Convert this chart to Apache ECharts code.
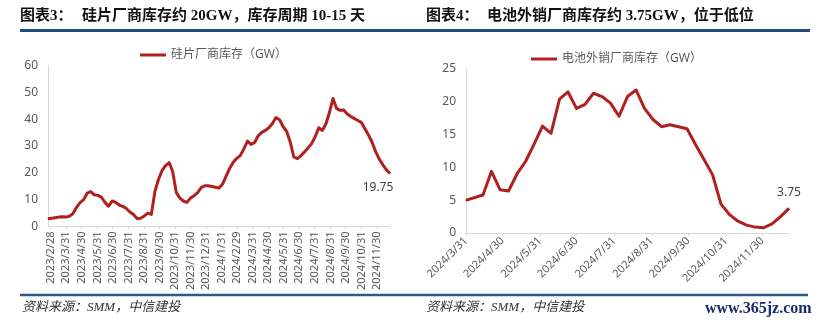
<!DOCTYPE html>
<html>
<head>
<meta charset="utf-8">
<script src="https://cdn.jsdelivr.net/npm/echarts@6/dist/echarts.min.js"></script>
<style>html,body{margin:0;padding:0;background:#fff;}#c{width:826px;height:326px;}</style>
</head>
<body>
<div id="c"></div>
<script>
// ---- Chart 3: wafer maker inventory (GW), weekly ----
const siName = '硅片厂商库存（GW）';
const siDates = [
  '2023-02-24','2023-03-03','2023-03-10','2023-03-17','2023-03-24','2023-03-31','2023-04-07','2023-04-14','2023-04-21','2023-04-28',
  '2023-05-05','2023-05-12','2023-05-19','2023-05-26','2023-06-02','2023-06-09','2023-06-16','2023-06-23','2023-06-30','2023-07-07',
  '2023-07-14','2023-07-21','2023-07-28','2023-08-04','2023-08-11','2023-08-18','2023-08-25','2023-09-01','2023-09-08','2023-09-15',
  '2023-09-22','2023-09-29','2023-10-06','2023-10-13','2023-10-20','2023-10-27','2023-11-03','2023-11-10','2023-11-17','2023-11-24',
  '2023-12-01','2023-12-08','2023-12-15','2023-12-22','2023-12-29','2024-01-05','2024-01-12','2024-01-19','2024-01-26','2024-02-02',
  '2024-02-09','2024-02-16','2024-02-23','2024-03-01','2024-03-08','2024-03-15','2024-03-22','2024-03-29','2024-04-05','2024-04-12',
  '2024-04-19','2024-04-26','2024-05-03','2024-05-10','2024-05-17','2024-05-24','2024-05-31','2024-06-07','2024-06-14','2024-06-21',
  '2024-06-28','2024-07-05','2024-07-12','2024-07-19','2024-07-26','2024-08-02','2024-08-09','2024-08-16','2024-08-23','2024-08-30',
  '2024-09-06','2024-09-13','2024-09-20','2024-09-27','2024-10-04','2024-10-11','2024-10-18','2024-10-25','2024-11-01','2024-11-08',
  '2024-11-15','2024-11-22','2024-11-29','2024-12-06','2024-12-13','2024-12-20','2024-12-27'
];
const siValues = [
  2.9, 3.1, 3.3, 3.5, 3.6, 3.5, 3.8, 4.8, 7.1, 8.9,
  10.0, 12.4, 13.0, 11.8, 11.6, 10.9, 9.0, 7.6, 9.5, 9.0,
  8.0, 7.5, 6.7, 5.4, 4.5, 3.0, 3.1, 3.9, 5.0, 4.5,
  13.0, 17.5, 20.8, 22.7, 23.8, 20.5, 12.7, 10.6, 9.5, 9.0,
  10.6, 11.5, 12.6, 14.5, 15.2, 15.2, 14.9, 14.6, 14.3, 15.8,
  18.8, 21.7, 23.9, 25.4, 26.5, 29.0, 31.8, 30.6, 31.3, 33.8,
  35.1, 35.8, 36.8, 38.4, 40.6, 39.8, 37.2, 35.4, 31.5, 25.9,
  25.3, 26.4, 27.8, 29.3, 30.9, 33.5, 36.8, 35.8, 38.2, 42.5,
  47.7, 44.0, 43.3, 43.4, 41.9, 41.0, 40.2, 39.5, 38.7, 36.3,
  34.0, 31.3, 27.8, 25.1, 23.0, 21.1, 19.75
];
const siTickLabels = [
  '2023/2/28','2023/3/31','2023/4/30','2023/5/31','2023/6/30','2023/7/31','2023/8/31','2023/9/30',
  '2023/10/31','2023/11/30','2023/12/31','2024/1/31','2024/2/29','2024/3/31','2024/4/30','2024/5/31',
  '2024/6/30','2024/7/31','2024/8/31','2024/9/30','2024/10/31','2024/11/30'
];

// ---- Chart 4: merchant cell maker inventory (GW), weekly ----
const cellName = '电池外销厂商库存（GW）';
const cellDates = [
  '2024-04-01','2024-04-08','2024-04-15','2024-04-22','2024-04-29','2024-05-06','2024-05-13','2024-05-20','2024-05-27','2024-06-03',
  '2024-06-10','2024-06-17','2024-06-24','2024-07-01','2024-07-08','2024-07-15','2024-07-22','2024-07-29','2024-08-05','2024-08-12',
  '2024-08-19','2024-08-26','2024-09-02','2024-09-09','2024-09-16','2024-09-23','2024-09-30','2024-10-07','2024-10-14','2024-10-21',
  '2024-10-28','2024-11-04','2024-11-11','2024-11-18','2024-11-25','2024-12-02','2024-12-09','2024-12-16','2024-12-23'
];
const cellValues = [
  5.0, 5.4, 5.8, 9.4, 6.6, 6.4, 9.0, 10.9, 13.5, 16.3,
  15.2, 20.4, 21.5, 19.0, 19.6, 21.3, 20.8, 19.8, 17.8, 20.8,
  21.8, 19.0, 17.3, 16.2, 16.5, 16.2, 15.9, 13.5, 11.2, 8.9,
  4.4, 2.8, 1.8, 1.2, 0.9, 0.8, 1.4, 2.5, 3.75
];
const cellTickLabels = [
  '2024/3/31','2024/4/30','2024/5/31','2024/6/30','2024/7/31','2024/8/31','2024/9/30','2024/10/31','2024/11/30'
];

// ---- texts ----
const title3Tag = '图表3：';
const title3Text = '硅片厂商库存约 20GW，库存周期 10-15 天';
const title4Tag = '图表4：';
const title4Text = '电池外销厂商库存约 3.75GW，位于低位';
const sourceText = '资料来源：SMM，中信建投';
const watermark = 'www.365jz.com';

function parseDay(s) {
  const p = s.split('-').map(Number);
  return new Date(p[0], p[1] - 1, p[2]).getTime();
}
function monthEndFormatter(labels) {
  return function (val) {
    const t = new Date(val);
    const prev = new Date(t.getFullYear(), t.getMonth(), t.getDate() - 1);
    const s = prev.getFullYear() + '/' + (prev.getMonth() + 1) + '/' + prev.getDate();
    return labels.indexOf(s) >= 0 ? s : '';
  };
}
function buildData(dates, values, label) {
  return dates.map(function (d, i) {
    const item = { value: [parseDay(d), values[i]] };
    if (i === dates.length - 1) item.label = label;
    return item;
  });
}

const FONT = "'Noto Sans', 'Noto Sans CJK SC', sans-serif";
const LINE_COLOR = '#B0201F';
const AXIS_COLOR = '#D9D9D9';
const LABEL_COLOR = '#595959';
const DAY = 86400000;

const chart = echarts.init(document.getElementById('c'), null, { renderer: 'canvas' });

function xAxisCfg(gridIndex, dates, labels, rotate, margin) {
  return {
    type: 'time', gridIndex: gridIndex,
    min: parseDay(dates[0]), max: parseDay(dates[dates.length - 1]),
    minInterval: 28 * DAY, maxInterval: 31 * DAY,
    axisLine: { lineStyle: { color: AXIS_COLOR, width: 1 } },
    axisTick: { show: true, length: 3, lineStyle: { color: AXIS_COLOR } },
    splitLine: { show: false },
    axisLabel: {
      rotate: rotate, margin: margin, color: LABEL_COLOR, fontSize: 11, fontFamily: FONT,
      formatter: monthEndFormatter(labels), hideOverlap: false
    }
  };
}
function yAxisCfg(gridIndex, max, interval) {
  return {
    type: 'value', gridIndex: gridIndex, min: 0, max: max, interval: interval,
    axisLine: { show: true, lineStyle: { color: AXIS_COLOR, width: 1 } },
    axisTick: { show: false },
    splitLine: { show: false },
    axisLabel: { color: LABEL_COLOR, fontSize: 12, fontFamily: FONT, margin: 10 }
  };
}
function lineSeries(name, xi, dates, values, label) {
  return {
    name: name, type: 'line', xAxisIndex: xi, yAxisIndex: xi,
    showSymbol: true, symbol: 'circle', symbolSize: 1,
    color: LINE_COLOR, itemStyle: { color: LINE_COLOR },
    lineStyle: { width: 3, color: LINE_COLOR, join: 'round' },
    label: { show: false },
    data: buildData(dates, values, label)
  };
}

const option = {
  animation: false,
  backgroundColor: '#ffffff',
  grid: [
    { left: 48, top: 65.5, width: 342, height: 161 },
    { left: 466, top: 69, width: 323, height: 164 }
  ],
  xAxis: [
    xAxisCfg(0, siDates, siTickLabels, 90, 5),
    xAxisCfg(1, cellDates, cellTickLabels, 45, 6)
  ],
  yAxis: [
    yAxisCfg(0, 60, 10),
    yAxisCfg(1, 25, 5)
  ],
  legend: [
    { data: [siName], left: 140, top: 49, padding: 0, icon: 'rect', itemWidth: 26, itemHeight: 3,
      textStyle: { color: LABEL_COLOR, fontSize: 12, fontFamily: FONT } },
    { data: [cellName], left: 531, top: 53, padding: 0, icon: 'rect', itemWidth: 26, itemHeight: 3,
      textStyle: { color: LABEL_COLOR, fontSize: 12, fontFamily: FONT } }
  ],
  series: [
    lineSeries(siName, 0, siDates, siValues, { show: true, position: 'bottom', distance: 5, offset: [-12, 3],
      color: '#404040', fontSize: 12, fontFamily: FONT, formatter: function (p) { return String(p.value[1]); } }),
    lineSeries(cellName, 1, cellDates, cellValues, { show: true, position: 'top', distance: 5, offset: [0, -4],
      color: '#404040', fontSize: 12, fontFamily: FONT, formatter: function (p) { return String(p.value[1]); } })
  ],
  graphic: [
    { type: 'text', x: 20, y: 16, style: { text: title3Tag, fill: '#111', fontSize: 15, fontWeight: 'bold',
      fontFamily: "'Liberation Serif', 'Noto Sans CJK SC', serif", verticalAlign: 'middle', textVerticalAlign: 'middle' } },
    { type: 'text', x: 82, y: 16, style: { text: title3Text, fill: '#111', fontSize: 15, fontWeight: 'bold',
      fontFamily: "'Liberation Serif', 'Noto Sans CJK SC', serif", verticalAlign: 'middle', textVerticalAlign: 'middle' } },
    { type: 'text', x: 426, y: 16, style: { text: title4Tag, fill: '#111', fontSize: 15, fontWeight: 'bold',
      fontFamily: "'Liberation Serif', 'Noto Sans CJK SC', serif", verticalAlign: 'middle', textVerticalAlign: 'middle' } },
    { type: 'text', x: 487, y: 16, style: { text: title4Text, fill: '#111', fontSize: 15, fontWeight: 'bold',
      fontFamily: "'Liberation Serif', 'Noto Sans CJK SC', serif", verticalAlign: 'middle', textVerticalAlign: 'middle' } },
    { type: 'line', shape: { x1: 20, y1: 30.5, x2: 810, y2: 30.5 }, style: { stroke: '#1F4E79', lineWidth: 3 } },
    { type: 'line', shape: { x1: 20, y1: 295, x2: 808, y2: 295 }, style: { stroke: '#2E5C8A', lineWidth: 2.5 } },
    { type: 'text', x: 22, y: 308, style: { text: sourceText, fill: '#333', fontSize: 13, fontStyle: 'italic',
      fontFamily: "'Liberation Serif', 'Noto Sans CJK SC', serif", verticalAlign: 'middle', textVerticalAlign: 'middle' } },
    { type: 'text', x: 426, y: 308, style: { text: sourceText, fill: '#333', fontSize: 13, fontStyle: 'italic',
      fontFamily: "'Liberation Serif', 'Noto Sans CJK SC', serif", verticalAlign: 'middle', textVerticalAlign: 'middle' } },
    { type: 'text', x: 705, y: 309, style: { text: watermark, fill: '#1A2B6B', fontSize: 16, fontWeight: 'bold',
      fontFamily: "'Liberation Serif', serif", verticalAlign: 'middle', textVerticalAlign: 'middle' } }
  ]
};
chart.setOption(option);
</script>
</body>
</html>
